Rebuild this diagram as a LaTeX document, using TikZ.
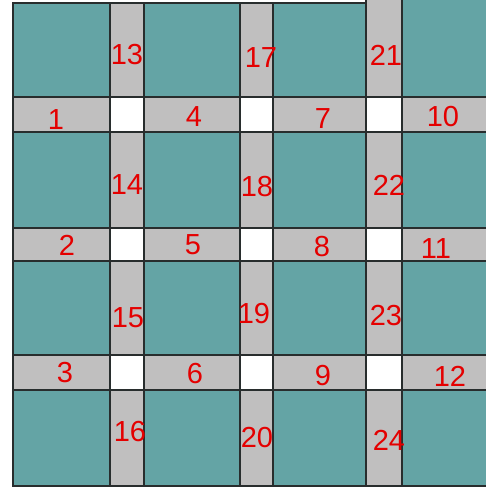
\documentclass[tikz,border=0pt]{standalone}
\usepackage{fontspec}
\setmainfont{Liberation Sans}
\definecolor{tilec}{RGB}{100,164,165}
\definecolor{stripc}{RGB}{192,191,191}
\definecolor{groutc}{RGB}{40,45,45}
\definecolor{penc}{RGB}{228,0,0}
\tikzset{
  tileshape/.style={fill=tilec, draw=groutc, line width=2.5pt},
  holeshape/.style={fill=white, draw=groutc, line width=2.5pt},
  edgeline/.style={draw=groutc, line width=2.5pt},
  lbl/.style={text=penc, font=\fontsize{29}{29}\selectfont, inner sep=0pt}
}
\begin{document}
\begin{tikzpicture}[x=1pt,y=-1pt]
\useasboundingbox (0,0) rectangle (486,488);
\fill[white] (0,0) rectangle (486,488);
% grout strips background
\fill[stripc] (13,3) rectangle (366,486);
\fill[stripc] (366,0) rectangle (488,486);
% tiles
\foreach \xa/\xb in {13/110,144/240,273/366,402/490}{
  \foreach \ya/\yb in {132/228,261/355,390/486}{
    \path[tileshape] (\xa,\ya) rectangle (\xb,\yb);
  }
}
\path[tileshape] (13,3) rectangle (110,97);
\path[tileshape] (144,3) rectangle (240,97);
\path[tileshape] (273,3) rectangle (366,97);
\path[tileshape] (402,-3) rectangle (490,97);
% white holes
\foreach \xa/\xb in {110/144,240/273,366/402}{
  \foreach \ya/\yb in {97/132,228/261,355/390}{
    \path[holeshape] (\xa,\ya) rectangle (\xb,\yb);
  }
}
% outer edges and strip borders
\draw[edgeline] (13,3) -- (13,486) -- (488,486);
\draw[edgeline] (13,3) -- (366,3);
\draw[edgeline] (366,0) -- (366,486);
\foreach \xx in {110,144,240,273,402}{\draw[edgeline] (\xx,3) -- (\xx,486);}
\foreach \yy in {97,132,228,261,355,390}{\draw[edgeline] (13,\yy) -- (488,\yy);}
% labels
\node[lbl] (n1) at (56,120) {1};
\node[lbl] (n2) at (67,245) {2};
\node[lbl] (n3) at (65,373) {3};
\node[lbl] (n4) at (194,117) {4};
\node[lbl] (n5) at (193,245) {5};
\node[lbl] (n6) at (195,374) {6};
\node[lbl] (n7) at (323,119) {7};
\node[lbl] (n8) at (322,247) {8};
\node[lbl] (n9) at (323,376) {9};
\node[lbl] (n10) at (443,117) {10};
\node[lbl] (n11) at (436,249) {11};
\node[lbl] (n12) at (450,376) {12};
\node[lbl] (n13) at (127,55) {13};
\node[lbl] (n14) at (127,185) {14};
\node[lbl] (n15) at (128,318) {15};
\node[lbl] (n16) at (130,432) {16};
\node[lbl] (n17) at (261,58) {17};
\node[lbl] (n18) at (257,187) {18};
\node[lbl] (n19) at (254,314) {19};
\node[lbl] (n20) at (257,438) {20};
\node[lbl] (n21) at (386,55) {21};
\node[lbl] (n22) at (389,185) {22};
\node[lbl] (n23) at (386,316) {23};
\node[lbl] (n24) at (389,440) {24};
\end{tikzpicture}
\end{document}
